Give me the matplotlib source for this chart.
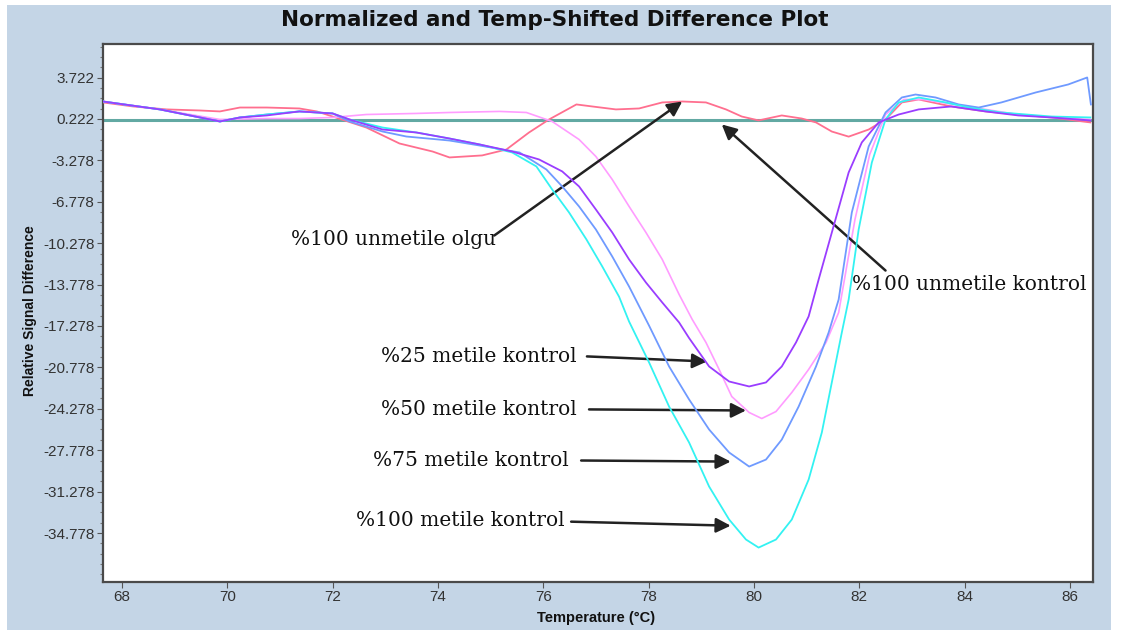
import numpy as np
import matplotlib
matplotlib.use("Agg")
import matplotlib.pyplot as plt
from matplotlib.patches import Rectangle
from matplotlib.ticker import FixedLocator

# ====================================
# Data
# ====================================
# %100 unmetile olgu (red)
olgu_t = [67.64, 68.21, 68.85, 69.48, 69.86, 70.24, 70.75, 71.37, 71.70, 72.00,
          72.64, 73.27, 73.90, 74.22, 74.84, 75.30, 75.73, 76.11, 76.63, 76.93,
          77.38, 77.82, 78.26, 78.64, 79.09, 79.47, 79.77, 80.09, 80.53, 80.91,
          81.18, 81.48, 81.80, 82.18, 82.50, 82.81, 83.13, 83.75, 84.40, 85.02,
          85.65, 86.39]
olgu_v = [1.62, 1.28, 1.03, 0.94, 0.86, 1.19, 1.19, 1.11, 0.86, 0.43,
          -0.50, -1.85, -2.53, -3.03, -2.86, -2.36, -0.92, 0.18, 1.45, 1.28,
          1.03, 1.11, 1.62, 1.70, 1.62, 1.03, 0.43, 0.10, 0.52, 0.26,
          -0.07, -0.84, -1.27, -0.67, 0.18, 1.62, 1.87, 1.28, 0.86, 0.60,
          0.35, -0.07]

# %25 metile kontrol (purple)
m25_t = [67.64, 68.72, 69.86, 70.24, 70.75, 71.37, 72.00, 72.32, 72.95, 73.59,
         74.22, 74.79, 75.41, 75.92, 76.36, 76.68, 77.00, 77.31, 77.63, 77.95,
         78.26, 78.58, 78.77, 79.15, 79.53, 79.91, 80.23, 80.53, 80.80, 81.04,
         81.23, 81.55, 81.80, 82.05, 82.37, 82.75, 83.13, 83.75, 84.40, 85.02,
         85.65, 86.39]
m25_v = [1.70, 1.03, 0.01, 0.35, 0.52, 0.86, 0.69, 0.18, -0.67, -0.92,
         -1.43, -1.93, -2.53, -3.20, -4.21, -5.48, -7.43, -9.37, -11.65, -13.60,
         -15.29, -16.98, -18.30, -20.70, -21.97, -22.39, -22.05, -20.70, -18.67, -16.47,
         -13.35, -8.27, -4.30, -1.76, -0.07, 0.60, 1.03, 1.28, 0.86, 0.52,
         0.35, 0.10]

# %50 metile kontrol (light magenta)
m50_t = [67.64, 68.72, 69.86, 70.75, 71.37, 72.00, 72.64, 73.59, 74.22, 75.17,
         75.68, 76.17, 76.68, 77.00, 77.31, 77.63, 77.95, 78.26, 78.58, 78.83,
         79.09, 79.34, 79.58, 79.91, 80.15, 80.42, 80.72, 81.04, 81.37, 81.61,
         81.92, 82.20, 82.50, 82.85, 83.22, 83.79, 84.40, 85.02, 85.65, 86.39]
m50_v = [1.70, 1.03, 0.18, 0.26, 0.26, 0.35, 0.60, 0.69, 0.77, 0.86,
         0.77, 0.01, -1.51, -2.95, -4.89, -7.17, -9.37, -11.65, -14.61, -16.73,
         -18.67, -20.95, -23.24, -24.59, -25.10, -24.51, -22.90, -20.95, -18.67, -16.14,
         -8.27, -2.78, 0.60, 1.87, 1.87, 1.45, 1.03, 0.60, 0.35, 0.18]

# %75 metile kontrol (blue)
m75_t = [67.64, 68.72, 69.86, 70.24, 70.75, 71.37, 72.00, 72.32, 72.95, 73.40,
         74.22, 74.79, 75.55, 76.06, 76.36, 76.68, 77.00, 77.31, 77.63, 78.01,
         78.39, 78.77, 79.15, 79.53, 79.91, 80.23, 80.53, 80.85, 81.18, 81.42,
         81.61, 81.86, 82.18, 82.50, 82.81, 83.07, 83.45, 83.89, 84.27, 84.70,
         85.35, 85.97, 86.33, 86.40]
m75_v = [1.70, 1.03, 0.01, 0.35, 0.60, 0.86, 0.69, 0.01, -0.84, -1.26,
         -1.60, -2.02, -2.61, -4.05, -5.48, -7.17, -9.12, -11.40, -13.94, -17.25,
         -20.70, -23.49, -26.03, -27.97, -29.16, -28.57, -26.88, -24.09, -20.70, -17.83,
         -15.04, -7.68, -2.10, 0.77, 2.04, 2.29, 2.04, 1.45, 1.19, 1.62,
         2.46, 3.14, 3.73, 1.45]

# %100 metile kontrol (cyan)
m100_t = [67.64, 68.72, 69.86, 70.24, 70.75, 71.37, 72.00, 72.32, 72.95, 73.59,
          74.22, 74.79, 75.41, 75.87, 76.17, 76.49, 76.82, 77.12, 77.44, 77.63,
          78.01, 78.39, 78.77, 79.15, 79.53, 79.85, 80.09, 80.42, 80.72, 81.04,
          81.29, 81.48, 81.67, 81.80, 81.99, 82.24, 82.50, 82.75, 83.13, 83.64,
          84.08, 84.70, 85.65, 86.39]
m100_v = [1.70, 1.03, 0.01, 0.35, 0.60, 0.86, 0.69, 0.18, -0.50, -0.92,
          -1.43, -1.93, -2.61, -3.79, -5.74, -7.68, -9.96, -12.24, -14.80, -16.90,
          -20.36, -24.09, -27.13, -30.85, -33.64, -35.33, -36.01, -35.33, -33.64, -30.26,
          -26.29, -22.05, -17.83, -15.04, -9.12, -3.46, 0.18, 1.62, 2.04, 1.62,
          1.19, 0.77, 0.43, 0.35]

# %100 unmetile kontrol (reference line)
kontrol_level = 0.12

y_ticks = [3.722, 0.222, -3.278, -6.778, -10.278, -13.778, -17.278,
           -20.778, -24.278, -27.778, -31.278, -34.778]
x_ticks = [68, 70, 72, 74, 76, 78, 80, 82, 84, 86]

# ====================================
# Figure
# ====================================
fig = plt.figure(figsize=(11.29, 6.30), dpi=100)
fig.patch.set_facecolor("white")
fig.patches.append(Rectangle((7 / 1129, 0), 1104 / 1129, 625 / 630,
                             transform=fig.transFigure, facecolor="#c4d5e6",
                             edgecolor="none", zorder=-10))

ax = fig.add_axes([103 / 1129, 48 / 630, 990 / 1129, 538 / 630])
ax.set_facecolor("white")

ax.axhline(kontrol_level, color="#62a9a3", lw=2.2, zorder=2)
ax.plot(olgu_t, olgu_v, color="#ff6f8f", lw=1.3, zorder=3)
ax.plot(m50_t, m50_v, color="#ff9cff", lw=1.2, zorder=3)
ax.plot(m75_t, m75_v, color="#6f9aff", lw=1.3, zorder=4)
ax.plot(m100_t, m100_v, color="#33f2f2", lw=1.3, zorder=4)
ax.plot(m25_t, m25_v, color="#9a3dff", lw=1.3, zorder=5)

ax.set_xlim(67.64, 86.44)
ax.set_ylim(-38.92, 6.56)

ax.set_xticks(x_ticks)
ax.set_yticks(y_ticks)
ax.set_yticklabels([f"{v:.3f}" for v in y_ticks])
ax.yaxis.set_minor_locator(FixedLocator(0.222 + 0.875 * np.arange(-45, 8)))

for s in ax.spines.values():
    s.set_color("#4a4a4a")
    s.set_linewidth(1.6)

ax.tick_params(axis="both", which="major", length=4, width=0.8,
               color="#555555", labelcolor="#333333", labelsize=11,
               direction="out", pad=2)
ax.tick_params(axis="y", which="minor", length=2.5, width=0.8, color="#777777")
for lab in ax.get_xticklabels() + ax.get_yticklabels():
    lab.set_family("Liberation Sans")

fig.text(0.491, 0.968, "Normalized and Temp-Shifted Difference Plot",
         ha="center", va="center", fontsize=15.5, fontweight="bold",
         family="DejaVu Sans", color="#111111")
fig.text(596 / 1129, 1 - 618 / 630, "Temperature (°C)", ha="center", va="center",
         fontsize=10.5, fontweight="bold", family="Liberation Sans", color="#111111")
fig.text(30 / 1129, 1 - 311 / 630, "Relative Signal Difference", ha="center",
         va="center", rotation=90, fontsize=10, fontweight="bold",
         family="Liberation Sans", color="#111111")

# ====================================
# Annotations
# ====================================
arrow = dict(arrowstyle="-|>", color="#222222", lw=1.8,
             mutation_scale=22, shrinkA=0, shrinkB=0)
txt = dict(fontsize=14.5, family="DejaVu Serif", color="#111111", va="center")

ax.text(75.10, -9.97, "%100 unmetile olgu", ha="right", **txt)
ax.annotate("", xy=(78.64, 1.70), xytext=(75.07, -9.63), arrowprops=arrow)

ax.text(81.86, -13.77, "%100 unmetile kontrol", ha="left", **txt)
ax.annotate("", xy=(79.39, -0.24), xytext=(82.50, -12.59), arrowprops=arrow)

ax.text(76.64, -19.85, "%25 metile kontrol", ha="right", **txt)
ax.annotate("", xy=(79.11, -20.28), xytext=(76.83, -19.85), arrowprops=arrow)

ax.text(76.64, -24.33, "%50 metile kontrol", ha="right", **txt)
ax.annotate("", xy=(79.85, -24.42), xytext=(76.87, -24.33), arrowprops=arrow)

ax.text(76.49, -28.65, "%75 metile kontrol", ha="right", **txt)
ax.annotate("", xy=(79.56, -28.74), xytext=(76.72, -28.65), arrowprops=arrow)

ax.text(76.40, -33.73, "%100 metile kontrol", ha="right", **txt)
ax.annotate("", xy=(79.56, -34.16), xytext=(76.53, -33.82), arrowprops=arrow)

fig.savefig("out.png", dpi=100, facecolor=fig.get_facecolor())
